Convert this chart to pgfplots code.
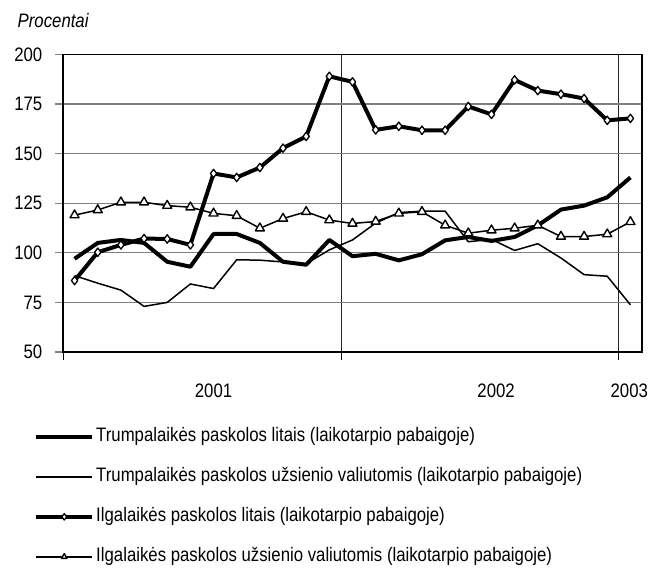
\documentclass[border=0pt]{standalone}
\usepackage{pgfplots}
\pgfplotsset{compat=1.18}
\usepackage{fontspec}
\setmainfont[FakeStretch=0.86]{Liberation Sans}
\begin{document}
\fontsize{19.5bp}{23bp}\selectfont
\begin{tikzpicture}
\useasboundingbox (-63bp,-218bp) rectangle (601bp,352bp);
\begin{axis}[
  scale only axis, width=579bp, height=297.5bp,
  at={(0,0)}, anchor=south west,
  xmin=-0.5, xmax=24.5, ymin=50, ymax=200,
  ytick={50,75,...,200},
  xtick={-0.5,11.5,23.5}, xticklabels={},
  extra x ticks={6,18.2,23.95},
  extra x tick labels={2001,2002,2003},
  extra x tick style={major tick length=0pt, grid=none},
  tick pos=left, tick align=outside, major tick length=8bp,
  ymajorgrids, xmajorgrids,
  y grid style={gray, line width=1.2bp},
  x grid style={black!85, line width=0.8bp},
  ytick style={gray, line width=1.2bp},
  xtick style={black, line width=0.8bp},
  axis line style={black, line width=1.6bp},
  /pgf/number format/assume math mode=true,
  yticklabel style={anchor=east, xshift=-6bp},
  xticklabel style={anchor=north, yshift=-25bp},
  legend cell align=left,
  legend style={at={(-0.05,-0.245)}, anchor=north west, draw=none, fill=none,
    inner sep=0pt, row sep=16.5bp, nodes={inner sep=2bp, text height=14.5bp, text depth=5bp}},
  legend image code/.code={\draw[mark repeat=2,mark phase=2,#1,mark size=3.2bp] plot coordinates {(0bp,0bp) (28bp,0bp) (56bp,0bp)};},
]
\addplot[black, line width=4bp, line join=round] coordinates {
(0,97) (1,105) (2,106.5) (3,105) (4,95.5) (5,93) (6,109.5) (7,109.5) (8,105) (9,95.5) (10,94) (11,106.5)
(12,98.3) (13,99.5) (14,96.2) (15,99.3) (16,106.3) (17,108) (18,106) (19,108) (20,113.8) (21,121.8) (22,123.8) (23,128) (24,138)};
\addlegendentry{Trumpalaikės paskolos litais (laikotarpio pabaigoje)}
\addplot[black, line width=1.5bp, line join=round] coordinates {
(0,88.5) (1,84.7) (2,81.2) (3,73) (4,75) (5,84.3) (6,82) (7,96.5) (8,96.3) (9,95.4) (10,94.5) (11,101.5)
(12,106.5) (13,115) (14,120.3) (15,121) (16,121) (17,105.6) (18,106.8) (19,101.2) (20,104.6) (21,97.4) (22,89) (23,88.2) (24,73.8)};
\addlegendentry{Trumpalaikės paskolos užsienio valiutomis (laikotarpio pabaigoje)}
\addplot[black, line width=4bp, line join=round, mark=diamond*, mark size=4.2bp,
  mark options={fill=white, draw=black, line width=1.3bp}] coordinates {
(0,86) (1,100.3) (2,104) (3,107.2) (4,107) (5,104) (6,140) (7,138) (8,143) (9,152.8) (10,158.7) (11,189)
(12,186.2) (13,162) (14,163.8) (15,161.8) (16,161.8) (17,173.8) (18,169.8) (19,187.2) (20,181.8) (21,180) (22,177.8) (23,166.8) (24,167.8)};
\addlegendentry{Ilgalaikės paskolos litais (laikotarpio pabaigoje)}
\addplot[black, line width=1.5bp, line join=round, mark=triangle*, mark size=5.2bp,
  mark options={fill=white, draw=black, line width=1.4bp}] coordinates {
(0,119) (1,121.6) (2,125.5) (3,125.5) (4,123.8) (5,123) (6,119.9) (7,118.7) (8,112.4) (9,117.3) (10,120.7) (11,116.5)
(12,114.8) (13,115.8) (14,119.9) (15,120.7) (16,113.9) (17,109.9) (18,111.4) (19,112.4) (20,113.9) (21,108.2) (22,108.2) (23,109.4) (24,115.6)};
\addlegendentry{Ilgalaikės paskolos užsienio valiutomis (laikotarpio pabaigoje)}
\end{axis}
\node[anchor=base west, font=\itshape] at (-52bp,324bp) {Procentai};
\end{tikzpicture}
\end{document}
